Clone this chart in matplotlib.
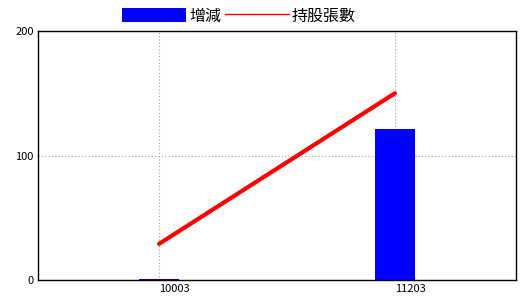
import matplotlib
matplotlib.use("Agg")
import matplotlib.pyplot as plt
from matplotlib.patches import Patch
from matplotlib.lines import Line2D

plt.rcParams['font.family'] = ['Noto Sans CJK TC', 'DejaVu Sans']

categories = ['10003', '11203']
change_values = [1, 121]
holding_values = [29, 150]
y_ticks = [0, 100, 200]
legend_labels = ['增減', '持股張數']

fig = plt.figure(figsize=(5.2, 3.0), dpi=100)
ax = fig.add_axes([38/520, 20/300, 478/520, 249/300])

x = list(range(len(categories)))
ax.bar(x, change_values, width=0.17, color='#0000ff', zorder=2)
ax.plot(x, holding_values, color='#ff0000', linewidth=3, solid_capstyle='round', zorder=3)

ax.set_xlim(-0.513, 1.513)
ax.set_ylim(0, 200)
ax.set_xticks(x)
ax.set_xticklabels(categories, fontsize=8, ha='left')
ax.set_yticks(y_ticks)
ax.set_yticklabels([str(v) for v in y_ticks], fontsize=8)
ax.tick_params(length=0, pad=3)
ax.grid(True, color='#a0a0a0', linestyle=(0, (1, 2)), linewidth=0.8, zorder=0)
for s in ax.spines.values():
    s.set_color('black')
    s.set_linewidth(1)

handles = [Patch(facecolor='#0000ff', edgecolor='none'),
           Line2D([0], [0], color='#ff0000', linewidth=1)]
fig.legend(handles, legend_labels, loc='center', bbox_to_anchor=(239/520, 1 - 16/300),
           ncol=2, frameon=False, fontsize=11.5, handlelength=4.0, handleheight=1.0,
           handletextpad=0.2, columnspacing=0.25, borderpad=0)

fig.savefig('out.png', dpi=100)
